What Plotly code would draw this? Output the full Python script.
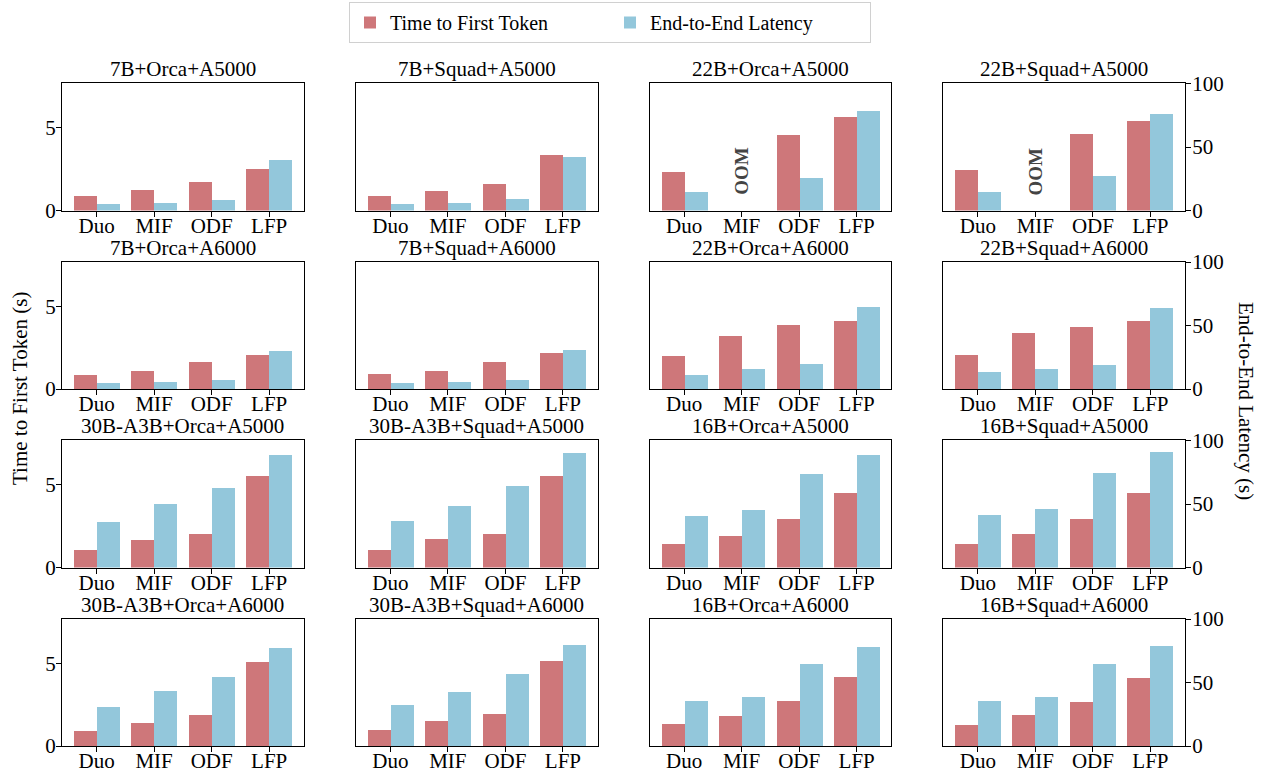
import plotly.graph_objects as go
from plotly.subplots import make_subplots

# ---------------- data ----------------
categories = ["Duo", "MIF", "ODF", "LFP"]

titles = [
    "7B+Orca+A5000", "7B+Squad+A5000", "22B+Orca+A5000", "22B+Squad+A5000",
    "7B+Orca+A6000", "7B+Squad+A6000", "22B+Orca+A6000", "22B+Squad+A6000",
    "30B-A3B+Orca+A5000", "30B-A3B+Squad+A5000", "16B+Orca+A5000", "16B+Squad+A5000",
    "30B-A3B+Orca+A6000", "30B-A3B+Squad+A6000", "16B+Orca+A6000", "16B+Squad+A6000",
]

# Time to First Token (s)
ttft_7b_orca_a5000 = [0.89, 1.25, 1.73, 2.52]
ttft_7b_squad_a5000 = [0.90, 1.15, 1.63, 3.38]
ttft_22b_orca_a5000 = [2.35, None, 4.58, 5.67]
ttft_22b_squad_a5000 = [2.46, None, 4.64, 5.42]
ttft_7b_orca_a6000 = [0.87, 1.11, 1.65, 2.07]
ttft_7b_squad_a6000 = [0.93, 1.11, 1.65, 2.19]
ttft_22b_orca_a6000 = [2.01, 3.22, 3.88, 4.12]
ttft_22b_squad_a6000 = [2.09, 3.42, 3.79, 4.11]
ttft_30b_orca_a5000 = [1.05, 1.65, 2.02, 5.52]
ttft_30b_squad_a5000 = [1.05, 1.72, 2.02, 5.54]
ttft_16b_orca_a5000 = [1.41, 1.90, 2.93, 4.51]
ttft_16b_squad_a5000 = [1.42, 2.03, 2.94, 4.52]
ttft_30b_orca_a6000 = [0.95, 1.43, 1.92, 5.12]
ttft_30b_squad_a6000 = [0.97, 1.57, 1.94, 5.14]
ttft_16b_orca_a6000 = [1.33, 1.87, 2.72, 4.17]
ttft_16b_squad_a6000 = [1.31, 1.92, 2.71, 4.16]

# End-to-End Latency (s)
e2e_7b_orca_a5000 = [5.3, 6.1, 8.4, 40.0]
e2e_7b_squad_a5000 = [5.5, 6.3, 8.7, 42.5]
e2e_22b_orca_a5000 = [14.2, None, 26.0, 78.7]
e2e_22b_squad_a5000 = [14.7, None, 27.4, 76.3]
e2e_7b_orca_a6000 = [5.0, 5.8, 7.35, 30.2]
e2e_7b_squad_a6000 = [5.0, 5.8, 7.3, 31.0]
e2e_22b_orca_a6000 = [11.3, 16.0, 19.9, 64.8]
e2e_22b_squad_a6000 = [13.8, 16.1, 19.3, 64.5]
e2e_30b_orca_a5000 = [35.8, 50.0, 62.6, 88.7]
e2e_30b_squad_a5000 = [36.7, 48.5, 64.4, 90.5]
e2e_16b_orca_a5000 = [40.6, 45.4, 73.9, 88.9]
e2e_16b_squad_a5000 = [41.5, 46.3, 74.8, 90.7]
e2e_30b_orca_a6000 = [31.3, 43.9, 55.0, 77.9]
e2e_30b_squad_a6000 = [32.4, 42.6, 56.8, 79.7]
e2e_16b_orca_a6000 = [35.5, 38.7, 64.7, 78.1]
e2e_16b_squad_a6000 = [36.1, 39.3, 65.4, 78.9]

ttft_all = [
    ttft_7b_orca_a5000, ttft_7b_squad_a5000, ttft_22b_orca_a5000, ttft_22b_squad_a5000,
    ttft_7b_orca_a6000, ttft_7b_squad_a6000, ttft_22b_orca_a6000, ttft_22b_squad_a6000,
    ttft_30b_orca_a5000, ttft_30b_squad_a5000, ttft_16b_orca_a5000, ttft_16b_squad_a5000,
    ttft_30b_orca_a6000, ttft_30b_squad_a6000, ttft_16b_orca_a6000, ttft_16b_squad_a6000,
]
e2e_all = [
    e2e_7b_orca_a5000, e2e_7b_squad_a5000, e2e_22b_orca_a5000, e2e_22b_squad_a5000,
    e2e_7b_orca_a6000, e2e_7b_squad_a6000, e2e_22b_orca_a6000, e2e_22b_squad_a6000,
    e2e_30b_orca_a5000, e2e_30b_squad_a5000, e2e_16b_orca_a5000, e2e_16b_squad_a5000,
    e2e_30b_orca_a6000, e2e_30b_squad_a6000, e2e_16b_orca_a6000, e2e_16b_squad_a6000,
]

# ---------------- style ----------------
W, H = 1266, 777
L, R, T, B = 62, 81, 83, 31
PW, PH = W - L - R, H - T - B
RED = "#CE777A"
BLUE = "#93C7DB"
FONT = "Liberation Serif, Times New Roman, serif"

HGAP = 52 / PW
VGAP = 51 / PH
COLW = (1 - 3 * HGAP) / 4


def px_x(px):
    return (px - L) / PW


def px_y(py):
    return (H - B - py) / PH


fig = make_subplots(
    rows=4, cols=4,
    specs=[[{"secondary_y": True}] * 4 for _ in range(4)],
    horizontal_spacing=HGAP,
    vertical_spacing=VGAP,
    subplot_titles=titles,
)

# make_subplots shrinks the grid for secondary axes; restore full-width domains
for c in range(1, 5):
    x0 = (c - 1) * (COLW + HGAP)
    fig.update_xaxes(domain=[x0, x0 + COLW], col=c)
for ann in fig.layout.annotations:
    col_idx = titles.index(ann.text) % 4
    ann.x = col_idx * (COLW + HGAP) + COLW / 2
fig.update_annotations(font=dict(family=FONT, size=21, color="black"))

for i in range(16):
    r, c = i // 4 + 1, i % 4 + 1
    fig.add_trace(
        go.Bar(x=categories, y=ttft_all[i], name="Time to First Token",
               marker=dict(color=RED, line=dict(width=0)),
               offset=-0.4, width=0.4, showlegend=(i == 0), legendgroup="ttft"),
        row=r, col=c, secondary_y=False,
    )
    fig.add_trace(
        go.Bar(x=categories, y=e2e_all[i], name="End-to-End Latency",
               marker=dict(color=BLUE, line=dict(width=0)),
               offset=0.0, width=0.4, showlegend=(i == 0), legendgroup="e2e"),
        row=r, col=c, secondary_y=True,
    )

    fig.update_yaxes(
        range=[0, 7.7], tickvals=[0, 5], showgrid=False, zeroline=False,
        showline=True, mirror=True, linecolor="black", linewidth=1.2,
        ticks="outside" if c == 1 else "", ticklen=5, tickcolor="black",
        ticklabelstandoff=-4,
        showticklabels=(c == 1), tickfont=dict(family=FONT, size=21, color="black"),
        row=r, col=c, secondary_y=False,
    )
    fig.update_yaxes(
        range=[0, 100.5], tickvals=[0, 50, 100], showgrid=False, zeroline=False,
        showline=False,
        ticks="outside" if c == 4 else "", ticklen=5, tickcolor="black",
        ticklabelstandoff=-3,
        showticklabels=(c == 4), tickfont=dict(family=FONT, size=21, color="black"),
        row=r, col=c, secondary_y=True,
    )

fig.update_xaxes(
    type="category", range=[-0.6, 3.6], showgrid=False, zeroline=False,
    showline=True, mirror=True, linecolor="black", linewidth=1.2,
    ticks="outside", ticklen=5, tickcolor="black", ticklabelstandoff=-9,
    tickfont=dict(family=FONT, size=21, color="black"),
)

# OOM markers
for c in (3, 4):
    fig.add_annotation(
        x="MIF", y=2.37, text="<b>OOM</b>", showarrow=False, textangle=-90,
        font=dict(family=FONT, size=19, color="#444444"),
        xanchor="center", yanchor="middle",
        row=1, col=c, secondary_y=False,
    )

# axis labels
fig.add_annotation(
    xref="paper", yref="paper", x=px_x(20), y=px_y(389),
    text="Time to First Token (s)", showarrow=False, textangle=-90,
    font=dict(family=FONT, size=21, color="black"),
    xanchor="center", yanchor="middle",
)
fig.add_annotation(
    xref="paper", yref="paper", x=px_x(1246), y=px_y(401),
    text="End-to-End Latency (s)", showarrow=False, textangle=90,
    font=dict(family=FONT, size=21, color="black"),
    xanchor="center", yanchor="middle",
)

fig.update_layout(
    width=W, height=H,
    margin=dict(l=L, r=R, t=T, b=B, autoexpand=False),
    plot_bgcolor="white", paper_bgcolor="white",
    font=dict(family=FONT, size=20, color="black"),
    barmode="overlay",
    bargap=0,
    legend=dict(
        orientation="h", x=px_x(610), y=px_y(2), xanchor="center", yanchor="top",
        bordercolor="#D0D0D0", borderwidth=1, bgcolor="white",
        font=dict(family=FONT, size=20, color="black"),
        entrywidth=215, entrywidthmode="pixels",
        traceorder="normal",
    ),
)

fig.write_html(
    "out.html",
    config={"displayModeBar": False},
    post_script="document.body.style.margin='0px';document.body.style.overflow='hidden';",
)
